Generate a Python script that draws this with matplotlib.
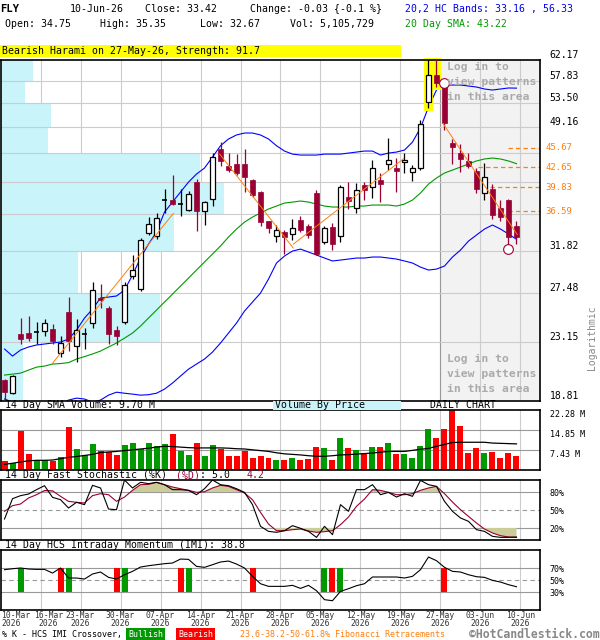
import numpy as np
import matplotlib
matplotlib.use("Agg")
import matplotlib.pyplot as plt
from matplotlib.patches import Rectangle
from matplotlib.ticker import NullLocator, NullFormatter

plt.rcParams['font.family'] = ['DejaVu Sans Mono', 'DejaVu Sans']

# ---------------- data ----------------
ticker = "FLY"
last_day = "10-Jun-26"
pct_change = "-0.1 %"
volume_today = "5,105,729"

opens = [20.24, 19.35, 23.78, 23.90, 23.95, 24.00, 24.20, 22.23, 25.72, 22.80,
         23.78, 24.70, 26.97, 26.10, 24.12, 24.80, 29.20, 27.85, 33.93, 33.60,
         38.00, 38.05, 37.45, 36.74, 40.60, 36.65, 38.15, 45.50, 42.80, 43.20,
         43.20, 40.80, 39.20, 35.30, 33.60, 34.00, 33.80, 35.50, 34.80, 38.96,
         32.90, 34.60, 33.60, 38.50, 37.00, 40.10, 39.80, 40.80, 43.10, 42.50,
         43.50, 41.95, 42.50, 53.60, 58.90, 57.30, 46.40, 44.80, 43.70, 42.10,
         39.00, 39.60, 37.00, 38.05, 34.75]
highs = [20.35, 20.60, 25.20, 25.30, 24.85, 25.10, 24.60, 23.60, 27.10, 25.10,
         24.30, 28.50, 28.30, 26.20, 24.50, 28.50, 31.40, 33.30, 35.90, 36.30,
         39.60, 41.60, 39.50, 39.30, 41.00, 37.90, 44.80, 46.70, 44.80, 44.70,
         45.50, 41.00, 39.30, 35.40, 34.90, 34.30, 35.60, 36.00, 35.00, 39.40,
         34.70, 35.10, 40.10, 40.60, 40.40, 40.60, 43.80, 41.90, 47.30, 44.10,
         44.80, 43.00, 50.30, 62.60, 62.60, 58.00, 47.20, 46.30, 44.80, 42.60,
         43.30, 40.30, 38.00, 38.20, 35.35]
lows = [18.95, 19.30, 23.00, 23.20, 23.00, 23.60, 23.00, 21.97, 22.40, 21.60,
        22.60, 24.30, 26.10, 23.00, 22.90, 24.60, 28.90, 27.70, 33.70, 33.20,
        36.40, 37.40, 36.00, 36.60, 34.10, 34.90, 37.30, 42.90, 42.00, 41.50,
        39.20, 38.50, 34.80, 33.90, 32.90, 31.50, 33.10, 34.00, 33.30, 31.40,
        32.60, 31.90, 32.90, 36.90, 36.30, 38.00, 38.30, 37.80, 42.30, 39.20,
        41.90, 40.70, 42.30, 52.50, 56.60, 48.60, 43.20, 42.00, 42.50, 39.00,
        38.05, 35.60, 35.30, 32.50, 32.67]
closes = [19.40, 20.53, 23.35, 23.45, 24.02, 24.70, 23.20, 23.03, 23.20, 24.10,
          23.82, 27.80, 26.80, 23.80, 23.65, 28.25, 29.80, 33.07, 34.94, 35.70,
          38.10, 37.50, 37.55, 38.80, 36.65, 37.80, 44.30, 43.60, 42.30, 41.80,
          41.20, 38.70, 35.20, 34.50, 34.30, 33.40, 34.50, 34.30, 33.70, 31.50,
          34.50, 32.60, 39.80, 37.90, 39.40, 39.40, 42.50, 40.30, 43.80, 42.10,
          43.80, 42.50, 49.60, 58.90, 57.40, 49.80, 45.80, 44.00, 42.90, 39.60,
          41.30, 36.10, 35.90, 33.45, 33.42]

# volume in millions
volume = [3.5, 2.6, 14.5, 5.9, 3.6, 3.6, 3.5, 4.8, 16.0, 7.8,
          5.4, 9.7, 6.9, 6.6, 5.7, 9.3, 10.0, 7.8, 10.0, 8.9,
          9.7, 13.4, 7.2, 5.6, 10.0, 5.2, 9.3, 7.8, 5.2, 5.2,
          7.2, 4.5, 5.2, 4.5, 3.7, 3.7, 4.5, 3.6, 4.1, 8.5,
          8.2, 3.7, 11.9, 8.2, 7.4, 6.3, 8.5, 8.5, 10.0, 5.9,
          5.9, 4.5, 8.9, 15.2, 11.9, 15.2, 22.5, 16.3, 6.3, 8.2,
          6.3, 6.7, 4.5, 6.3, 5.11]
vol_sma14 = [2.1, 2.5, 3.0, 3.4, 3.6, 3.6, 3.7, 4.2, 4.7, 5.0,
             5.4, 5.8, 6.5, 6.7, 6.9, 7.2, 7.5, 7.8, 8.1, 8.5,
             8.8, 8.7, 8.5, 8.3, 8.2, 8.2, 8.2, 8.2, 8.1, 7.9,
             7.8, 7.5, 7.2, 6.9, 6.4, 6.0, 5.8, 5.6, 5.3, 5.1,
             5.1, 5.3, 5.6, 5.7, 5.9, 6.1, 6.3, 6.6, 6.9, 6.9,
             6.9, 7.3, 7.7, 8.0, 8.8, 9.5, 10.2, 10.3, 10.3, 10.3,
             10.3, 10.0, 9.9, 9.8, 9.70]

bb_upper = [22.57, 22.02, 22.49, 22.73, 22.89, 22.97, 23.05, 23.13, 23.37, 24.12,
            25.16, 25.96, 26.99, 27.08, 27.18, 27.75, 29.25, 31.05, 32.61, 34.01,
            36.48, 37.78, 39.13, 40.52, 41.68, 42.57, 44.24, 46.03, 47.13, 47.80,
            48.13, 48.13, 47.80, 47.13, 46.03, 45.18, 44.70, 44.55, 44.55, 44.55,
            44.70, 44.70, 44.70, 44.86, 45.02, 45.18, 45.18, 44.55, 44.86, 45.02,
            45.34, 46.63, 48.98, 52.72, 55.96, 56.95, 56.95, 56.95, 56.75, 56.55,
            56.16, 55.96, 56.16, 56.36, 56.33]
sma20 = [20.60, 20.67, 20.74, 20.96, 21.18, 21.26, 21.41, 21.45, 21.52, 21.79,
         21.98, 22.18, 22.41, 22.73, 23.05, 23.45, 23.87, 24.46, 25.16, 25.87,
         26.61, 27.36, 28.14, 28.94, 29.77, 30.62, 31.49, 32.39, 33.42, 34.37,
         35.22, 35.85, 36.36, 36.87, 37.26, 37.65, 37.78, 37.92, 37.78, 37.52,
         37.26, 37.13, 37.13, 37.13, 37.26, 37.26, 37.39, 37.39, 37.39, 37.26,
         37.52, 38.05, 39.00, 40.24, 41.10, 41.83, 42.27, 42.72, 43.18, 43.64,
         43.94, 44.09, 43.94, 43.64, 43.22]
bb_lower = [18.94, 18.74, 18.55, 18.36, 18.23, 18.23, 18.36, 18.61, 18.87, 19.00,
            18.94, 18.74, 18.87, 19.20, 19.40, 19.33, 19.27, 19.20, 19.23, 19.33,
            19.61, 20.03, 20.53, 21.03, 21.41, 21.79, 22.33, 23.05, 23.87, 24.72,
            25.78, 26.61, 27.46, 28.84, 30.51, 31.27, 31.82, 32.04, 31.71, 31.38,
            31.05, 30.73, 30.83, 30.94, 31.05, 31.05, 31.16, 31.16, 31.05, 30.94,
            30.73, 30.51, 30.08, 29.77, 29.87, 30.19, 31.16, 31.93, 32.95, 33.66,
            34.37, 34.86, 34.37, 33.78, 33.16]

stoch_k = [35.0, 68.9, 73.9, 76.6, 83.9, 90.5, 71.1, 67.2, 53.3, 62.8,
           58.9, 91.1, 86.7, 51.6, 50.5, 100.0, 86.7, 96.1, 93.9, 96.1,
           92.2, 83.9, 83.9, 82.8, 75.5, 85.5, 100.0, 92.2, 90.5, 85.5,
           79.4, 58.9, 22.8, 14.4, 12.8, 15.5, 23.9, 19.5, 14.4, 4.4,
           22.8, 8.9, 58.9, 47.8, 83.9, 83.9, 92.2, 75.5, 79.4, 71.6,
           77.2, 72.8, 99.4, 92.2, 89.4, 64.4, 47.8, 36.7, 31.1, 17.2,
           14.4, 6.1, 4.4, 4.4, 5.0]
stoch_d = [47.8, 57.2, 60.0, 70.0, 75.5, 82.5, 82.0, 72.8, 64.4, 62.8,
           61.7, 73.9, 77.2, 75.5, 64.4, 71.6, 82.8, 92.2, 92.8, 96.1,
           92.2, 88.3, 85.5, 82.8, 79.4, 80.5, 86.7, 91.1, 89.4, 83.9,
           78.3, 67.2, 46.1, 26.6, 15.5, 15.5, 17.2, 18.3, 15.0, 12.8,
           13.9, 15.5, 25.5, 38.3, 56.1, 68.3, 83.9, 82.8, 79.4, 75.5,
           75.5, 77.2, 82.8, 86.7, 89.4, 77.2, 63.3, 50.5, 39.4, 28.3,
           18.3, 11.7, 7.2, 5.0, 4.2]

imi = [67.2, 68.8, 70.0, 68.3, 67.7, 67.7, 61.6, 70.0, 53.3, 53.3,
       51.6, 60.0, 63.3, 54.4, 51.6, 58.8, 64.4, 71.6, 73.8, 75.5,
       77.2, 78.3, 84.9, 84.4, 72.7, 71.1, 75.5, 80.0, 81.6, 76.6,
       70.0, 56.1, 43.8, 39.4, 39.4, 39.4, 41.1, 36.0, 41.1, 32.2,
       17.2, 15.5, 31.1, 35.5, 40.5, 43.8, 55.0, 55.0, 55.0, 55.0,
       53.3, 56.1, 67.2, 88.3, 82.2, 71.1, 64.4, 63.3, 58.8, 55.5,
       54.4, 49.4, 46.6, 42.2, 38.8]
bull_cross = [2, 8, 15, 23, 40, 42]
bear_cross = [7, 14, 22, 31, 41, 55]

# volume by price (millions) per price band
vbp_edges = [18.81, 23.15, 27.48, 31.82, 36.17, 40.50, 44.83, 49.16, 53.50, 57.83, 62.17]
vbp_volume = [11.0, 79.5, 38.5, 86.5, 111.5, 99.5, 23.5, 25.0, 12.0, 16.0]

fib_levels = [45.67, 42.65, 39.83, 36.59]
fib_from = [62.9, 59.2, 60.7, 62.9]

trend_x = [(5.9, 21.1), (26.9, 36.1), (36.1, 49.9), (54.8, 64.1)]
trend_y = [(21.4, 36.3), (44.7, 32.15), (32.6, 44.0), (49.8, 33.7)]

price_grid = [23.15, 27.48, 31.82, 36.17, 40.50, 44.83, 49.16, 53.50, 57.83]
price_lab = [18.81, 23.15, 27.48, 31.82, 49.16, 53.50, 57.83, 62.17]

tick_idx = [0, 4, 9, 14, 19, 24, 29, 34, 39, 44, 49, 54, 59, 64]
tick_lab = ['10-Mar', '16-Mar', '23-Mar', '30-Mar', '07-Apr', '14-Apr', '21-Apr',
            '28-Apr', '05-May', '12-May', '19-May', '27-May', '03-Jun', '10-Jun']

pattern_text = "Bearish Harami on 27-May-26, Strength: 91.7"
pattern_idx = [53, 54]
marks = [(55, 57.3), (63, 32.0)]

# ---------------- styling ----------------
W, H = 600, 640
RED = '#990033'
GRID = '#cccccc'
SUBGRID = '#999999'
CYAN = '#c8f4fa'
ORANGE = '#ff7f0e'
n = len(closes)
x = np.arange(n)
xmin, xmax = -0.44, 66.94


def fx(px):
    return px / W


def fy(py):
    return 1 - py / H


fig = plt.figure(figsize=(6, 6.4), dpi=100)


def panel(top, bottom):
    a = fig.add_axes([fx(1), fy(bottom), 539 / W, (bottom - top) / H])
    a.set_xlim(xmin, xmax)
    a.set_xticks([])
    for s in a.spines.values():
        s.set_linewidth(1.2)
        s.set_color('black')
    a.yaxis.tick_right()
    a.tick_params(axis='y', length=0, pad=7, labelsize=6)
    for idx in tick_idx[1:]:
        a.axvline(idx + 0.5, color=GRID, lw=0.8, zorder=0.3)
    return a


ax = panel(60, 401)
axv = panel(410, 470)
axs = panel(480, 540)
axi = panel(550, 610)

# ---- price panel ----
ax.set_yscale('log')
ax.set_ylim(vbp_edges[0], vbp_edges[-1])
ax.yaxis.set_minor_locator(NullLocator())
ax.yaxis.set_minor_formatter(NullFormatter())
ax.set_yticks(price_lab, [f'{v:.2f}' for v in price_lab])
ax.tick_params(axis='y', labelsize=7, pad=7)
plt.setp(ax.get_yticklabels(), va='bottom')
for v in price_grid:
    ax.axhline(v, color=GRID, lw=0.8, zorder=0.8)

ax.axvspan(54.5, xmax, color='#f2f2f2', lw=0, zorder=0.1)
ax.axvline(54.5, color=SUBGRID, lw=0.8, zorder=0.4)

vmax = max(vbp_volume)
for k in range(len(vbp_volume)):
    ax.barh(vbp_edges[k], vbp_volume[k] / vmax * 27.9, height=vbp_edges[k + 1] - vbp_edges[k],
            left=xmin, align='edge', color=CYAN, lw=0, zorder=0.5)

for j in pattern_idx:
    ax.add_patch(Rectangle((j - 0.6, lows[j] * 0.99), 1.2, highs[j] - lows[j] * 0.99,
                           fc='#ffff00', ec='none', zorder=2.5, clip_on=False))

ax.plot(x, bb_upper, color='#0000ff', lw=0.8, zorder=2)
ax.plot(x, bb_lower, color='#0000ff', lw=0.8, zorder=2)
ax.plot(x, sma20, color='#009900', lw=0.8, zorder=2)
for xs, ys in zip(trend_x, trend_y):
    ax.plot(xs, ys, color=ORANGE, lw=0.7, zorder=4)

for lvl, start in zip(fib_levels, fib_from):
    ax.plot([start, xmax], [lvl, lvl], color=ORANGE, lw=0.9, dashes=(3.5, 2.5), zorder=2)
    ax.text(1.01, lvl, f'{lvl:.2f}', transform=ax.get_yaxis_transform(), color=ORANGE,
            fontsize=6.5, va='center', ha='left')

for i in range(n):
    o, h, l, c = opens[i], highs[i], lows[i], closes[i]
    lo, hi = min(o, c), max(o, c)
    if abs(c - o) / o < 0.004:
        ax.vlines(i, l, h, color='black', lw=0.9, zorder=3)
        ax.hlines((o + c) / 2, i - 0.36, i + 0.36, color='black', lw=1.2, zorder=3)
    elif c > o:
        ax.vlines(i, l, h, color='black', lw=0.9, zorder=3)
        ax.add_patch(Rectangle((i - 0.32, lo), 0.64, hi - lo, fc='white', ec='black',
                               lw=0.9, zorder=3.5))
    else:
        ax.vlines(i, l, h, color=RED, lw=0.9, zorder=3)
        ax.add_patch(Rectangle((i - 0.36, lo), 0.72, hi - lo, fc=RED, ec=RED,
                               lw=0.5, zorder=3.5))

for mi, mp in marks:
    ax.plot(mi, mp, 'o', mfc='white', mec=RED, ms=7, mew=0.8, zorder=5)

# ---- volume panel ----
vcol = ['#009900' if closes[i] >= opens[i] else '#ff0000' for i in range(n)]
axv.bar(x, volume, width=0.75, color=vcol, zorder=2)
axv.plot(x, vol_sma14, color='black', lw=0.9, zorder=3)
axv.set_ylim(0, 22.28)
vt = [7.43, 14.85, 22.28]
axv.set_yticks(vt, [f'{v:.2f} M' for v in vt])
plt.setp(axv.get_yticklabels(), va='top')
for v in vt[:2]:
    axv.axhline(v, color=SUBGRID, lw=0.8, zorder=1)

# ---- stochastic panel ----
k = np.array(stoch_k)
d = np.array(stoch_d)
axs.fill_between(x, d, 80, where=d > 80, interpolate=True, color='#cccc99', lw=0, zorder=1.5)
axs.fill_between(x, d, 20, where=d < 20, interpolate=True, color='#cccc99', lw=0, zorder=1.5)
axs.axhline(80, color=SUBGRID, lw=0.8, zorder=1)
axs.axhline(20, color=SUBGRID, lw=0.8, zorder=1)
axs.axhline(50, color=SUBGRID, lw=0.8, ls=(0, (4, 3)), zorder=1)
axs.plot(x, d, color=RED, lw=0.8, zorder=3)
axs.plot(x, k, color='black', lw=0.8, zorder=3)
axs.set_ylim(0, 100)
axs.set_yticks([20, 50, 80], ['20%', '50%', '80%'])

# ---- IMI panel ----
axi.axhline(70, color=SUBGRID, lw=0.8, zorder=1)
axi.axhline(30, color=SUBGRID, lw=0.8, zorder=1)
axi.axhline(50, color=SUBGRID, lw=0.8, ls=(0, (4, 3)), zorder=1)
axi.bar(bull_cross, 40, bottom=30, width=0.75, color='#009900', zorder=2)
axi.bar(bear_cross, 40, bottom=30, width=0.75, color='#ff0000', zorder=2)
axi.plot(x, imi, color='black', lw=0.8, zorder=3)
axi.set_ylim(0, 100)
axi.set_yticks([30, 50, 70], ['30%', '50%', '70%'])

# date labels (second label is nudged right so it clears the first)
tick_pos = [xmin, tick_idx[1] + 1.5] + [t + 0.5 for t in tick_idx[2:]]
axi.set_xticks(tick_pos, [f'{t}\n2026' for t in tick_lab])
axi.tick_params(axis='x', length=0, pad=1, labelsize=5.8, labelcolor='#333333')
for lab in axi.get_xticklabels():
    lab.set_linespacing(0.85)
axi.get_xticklabels()[0].set_ha('left')

# ---------------- header texts ----------------
fs = 7.1
chg = closes[-1] - closes[-2]
fig.text(fx(0), fy(9), ticker, fontsize=fs + 0.5, weight='bold', va='center')
fig.text(fx(70), fy(9), last_day, fontsize=fs, va='center')
fig.text(fx(145), fy(9), f'Close: {closes[-1]:.2f}', fontsize=fs, va='center')
fig.text(fx(250), fy(9), f'Change: {chg:.2f} {{{pct_change}}}', fontsize=fs, va='center')
fig.text(fx(5), fy(24), f'Open: {opens[-1]:.2f}', fontsize=fs, va='center')
fig.text(fx(100), fy(24), f'High: {highs[-1]:.2f}', fontsize=fs, va='center')
fig.text(fx(200), fy(24), f'Low: {lows[-1]:.2f}', fontsize=fs, va='center')
fig.text(fx(290), fy(24), f'Vol: {volume_today}', fontsize=fs, va='center')
fig.text(fx(405), fy(9), f'20,2 HC Bands: {bb_lower[-1]:.2f} , {bb_upper[-1]:.2f}',
         fontsize=fs, va='center', color='#0000ee')
fig.text(fx(405), fy(24), f'20 Day SMA: {sma20[-1]:.2f}', fontsize=fs, va='center', color='#009900')

fig.patches.append(Rectangle((0, fy(57)), 401 / W, 12 / H, transform=fig.transFigure,
                             fc='#ffff00', ec='none'))
fig.text(fx(2), fy(51), pattern_text, fontsize=fs, va='center')

for j, line in enumerate(['Log in to', 'view patterns', 'in this area']):
    fig.text(fx(447), fy(67 + 15 * j), line, fontsize=8.2, weight='bold',
             color='#aaaaaa', va='center')
    fig.text(fx(447), fy(359 + 15 * j), line, fontsize=8.2, weight='bold',
             color='#aaaaaa', va='center')

fig.text(fx(592), fy(338), 'Logarithmic', rotation=90, fontsize=7, color='#888888',
         ha='center', va='center')

fig.text(fx(5), fy(405.5), f'14 Day SMA Volume: {vol_sma14[-1]:.2f} M', fontsize=fs, va='center')
fig.patches.append(Rectangle((fx(273), fy(410)), 128 / W, 9 / H, transform=fig.transFigure,
                             fc=CYAN, ec='none'))
fig.text(fx(275), fy(405.5), 'Volume By Price', fontsize=fs, va='center')
fig.text(fx(430), fy(405.5), 'DAILY CHART', fontsize=fs, va='center')

fig.text(fx(5), fy(475.5), '14 Day Fast Stochastic (%K)', fontsize=fs, va='center')
fig.text(fx(176), fy(475.5), '(%D)', fontsize=fs, va='center', color=RED)
fig.text(fx(200), fy(475.5), f': {stoch_k[-1]:.1f}', fontsize=fs, va='center')
fig.text(fx(247), fy(475.5), f'{stoch_d[-1]:.1f}', fontsize=fs, va='center', color=RED)

fig.text(fx(5), fy(545.5), f'14 Day HCS Intraday Momentum (IMI): {imi[-1]:.1f}',
         fontsize=fs, va='center')

fig.text(fx(2), fy(634.5), '% K - HCS IMI Crossover,', fontsize=6, va='center')
fig.text(fx(128), fy(634.5), 'Bullish', fontsize=6, va='center', color='white',
         bbox=dict(boxstyle='square,pad=0.2', fc='#009900', ec='none'))
fig.text(fx(178), fy(634.5), 'Bearish', fontsize=6, va='center', color='white',
         bbox=dict(boxstyle='square,pad=0.2', fc='#ff0000', ec='none'))
fig.text(fx(240), fy(634.5), '23.6-38.2-50-61.8% Fibonacci Retracements', fontsize=6,
         va='center', color=ORANGE)
fig.text(fx(600), fy(634.5), '\u00a9HotCandlestick.com', fontsize=8.3, weight='bold',
         color='#888888', va='center', ha='right')

fig.savefig('out.png', dpi=100)
